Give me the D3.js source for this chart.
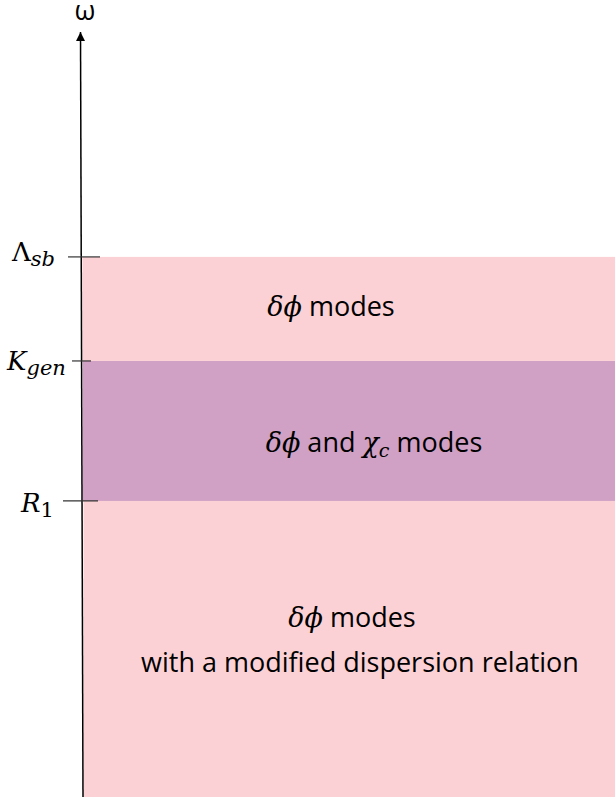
<!DOCTYPE html>
<html>
<head>
<meta charset="utf-8">
<script src="https://cdn.jsdelivr.net/npm/d3@7"></script>
<style>
  body { margin: 0; background: #fff; }
  .math { font-family: "DejaVu Serif", serif; font-style: italic; }
  .txt { font-family: "Open Sans", sans-serif; }
</style>
</head>
<body>
<svg id="chart"></svg>
<script>
// energy scale values (arbitrary units, 0 at bottom, 100 at arrow tip)
const scaleNames = ['R1', 'Kgen', 'Lsb']
const scaleValues = [38.7, 57.0, 70.6]
// bands between scales
const bandFrom = [0, 38.7, 57.0]
const bandTo = [38.7, 57.0, 70.6]
const bandColors = ['#fcd1d5', '#d0a1c4', '#fcd1d5']

const width = 615, height = 800

const svg = d3.select('#chart')
    .attr('width', width)
    .attr('height', height)

const y = d3.scaleLinear().domain([0, 100]).range([797, 32])
// axis leans a tiny bit to the right going down
const axisX = d3.scaleLinear().domain([0, 100]).range([83, 80.5])

// Draw bands
svg.append('g')
    .selectAll('rect')
    .data(bandFrom)
    .join('rect')
    .attr('x', (d, i) => axisX((bandFrom[i] + bandTo[i]) / 2) + 1)
    .attr('y', (d, i) => y(bandTo[i]))
    .attr('width', width)
    .attr('height', (d, i) => y(bandFrom[i]) - y(bandTo[i]))
    .attr('fill', (d, i) => bandColors[i])

// Axis line + arrow
svg.append('defs').append('marker')
    .attr('id', 'arr')
    .attr('viewBox', '0 0 10 10')
    .attr('refX', 10).attr('refY', 5)
    .attr('markerWidth', 10).attr('markerHeight', 9)
    .attr('markerUnits', 'userSpaceOnUse')
    .attr('orient', 'auto')
    .append('path')
    .attr('d', 'M0,0 L10,5 L0,10 z')
    .attr('fill', '#000')

svg.append('line')
    .attr('x1', axisX(0)).attr('y1', y(0))
    .attr('x2', axisX(100)).attr('y2', y(100))
    .attr('stroke', '#000')
    .attr('stroke-width', 1.5)
    .attr('marker-end', 'url(#arr)')

svg.append('text')
    .attr('class', 'txt')
    .attr('x', 85)
    .attr('y', 20)
    .attr('text-anchor', 'middle')
    .attr('font-size', 27)
    .text('ω')

// Tick marks
const tickLeft = [63, 72, 68]
const tickRight = [98, 91, 100]
svg.append('g')
    .selectAll('line')
    .data(scaleValues)
    .join('line')
    .attr('x1', (d, i) => tickLeft[i])
    .attr('x2', (d, i) => tickRight[i])
    .attr('y1', d => y(d))
    .attr('y2', d => y(d))
    .attr('stroke', '#333')
    .attr('stroke-width', 1.2)

// Tick labels (main symbol + subscript)
const labelMain = ['R', 'K', 'Λ']
const labelSub = ['1', 'gen', 'sb']
const labelX = [21, 7, 12]
const labelDy = [11, 9, 4]

const lab = svg.append('g')
    .selectAll('text')
    .data(scaleValues)
    .join('text')
    .attr('class', 'math')
    .attr('font-size', 26)
    .attr('x', (d, i) => labelX[i])
    .attr('y', (d, i) => y(d) + labelDy[i])
lab.append('tspan')
    .attr('font-style', (d, i) => labelMain[i] === 'Λ' ? 'normal' : 'italic')
    .text((d, i) => labelMain[i])
lab.append('tspan')
    .attr('font-size', 21)
    .attr('dy', 5)
    .attr('font-style', (d, i) => labelSub[i] === '1' ? 'normal' : 'italic')
    .text((d, i) => labelSub[i])

// Band texts
const fs = 27
const t1 = svg.append('text').attr('class', 'txt').attr('font-size', fs)
    .attr('x', 331).attr('y', 316).attr('text-anchor', 'middle')
t1.append('tspan').attr('class', 'math').text('δϕ')
t1.append('tspan').text(' modes')

const t2 = svg.append('text').attr('class', 'txt').attr('font-size', fs)
    .attr('x', 374).attr('y', 452).attr('text-anchor', 'middle')
t2.append('tspan').attr('class', 'math').text('δϕ')
t2.append('tspan').text(' and ')
t2.append('tspan').attr('class', 'math').text('χ')
t2.append('tspan').attr('class', 'math').attr('font-size', 19).attr('dy', 5).text('c')
t2.append('tspan').attr('dy', -5).text(' modes')

const t3 = svg.append('text').attr('class', 'txt').attr('font-size', fs)
    .attr('x', 352).attr('y', 627).attr('text-anchor', 'middle')
t3.append('tspan').attr('class', 'math').text('δϕ')
t3.append('tspan').text(' modes')

svg.append('text').attr('class', 'txt').attr('font-size', fs)
    .attr('x', 360).attr('y', 672).attr('text-anchor', 'middle')
    .text('with a modified dispersion relation')
</script>
</body>
</html>
